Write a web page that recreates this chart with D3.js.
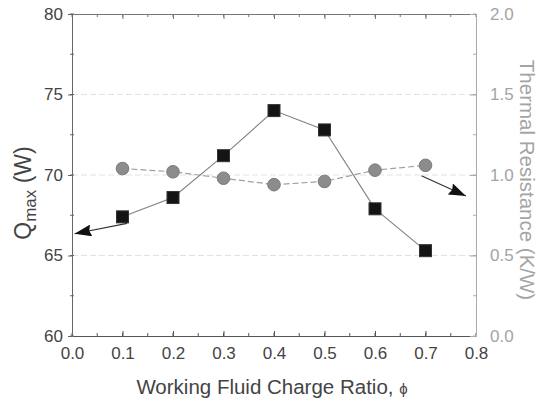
<!DOCTYPE html>
<html>
<head>
<meta charset="utf-8">
<script src="https://cdn.jsdelivr.net/npm/d3@7"></script>
<style>
  html, body { margin: 0; padding: 0; background: #fff; }
  svg { display: block; font-family: "Liberation Sans", Arial, sans-serif; }
</style>
</head>
<body>
<svg id="chart" width="546" height="404"></svg>
<script>
// ---- data ----
const chargeRatio = [0.1, 0.2, 0.3, 0.4, 0.5, 0.6, 0.7];
const qmaxValues = [67.4, 68.6, 71.2, 74.0, 72.8, 67.9, 65.3];
const resistanceValues = [1.04, 1.02, 0.98, 0.94, 0.96, 1.03, 1.06];
const xTicks = [0.0, 0.1, 0.2, 0.3, 0.4, 0.5, 0.6, 0.7, 0.8];
const leftTicks = [60, 65, 70, 75, 80];
const rightTicks = [0.0, 0.5, 1.0, 1.5, 2.0];
const gridValues = [65, 70, 75];
// arrow annotations [x, y] in data units
const leftArrow = { from: [0.109, 67.0], to: [0.005, 66.35] };
const rightArrow = { from: [0.692, 0.995], to: [0.78, 0.87] };

(function () {
const svg = d3.select("#chart");
const m = { left: 72, right: 476, top: 14, bottom: 336 };

const x = d3.scaleLinear().domain([0, 0.8]).range([m.left, m.right]);
const yL = d3.scaleLinear().domain([60, 80]).range([m.bottom, m.top]);
const yR = d3.scaleLinear().domain([0, 2]).range([m.bottom, m.top]);

const dark = "#444";
const gray = "#a4a4a4";

// arrowhead marker
const defs = svg.append("defs");
defs.append("marker")
  .attr("id", "ah").attr("viewBox", "0 0 17 12")
  .attr("refX", 17).attr("refY", 6)
  .attr("markerWidth", 17).attr("markerHeight", 12)
  .attr("markerUnits", "userSpaceOnUse")
  .attr("orient", "auto")
  .append("path").attr("d", "M0,0 L17,6 L0,12 L2,6 Z").attr("fill", "#111");

// gridlines
svg.append("g").selectAll("line").data(gridValues).join("line")
  .attr("x1", m.left).attr("x2", m.right)
  .attr("y1", d => yL(d)).attr("y2", d => yL(d))
  .attr("stroke", "#e2e2e2").attr("stroke-width", 1)
  .attr("stroke-dasharray", "6,3");

// axes
const xMinor = d3.range(0, 0.8001, 0.05);
const gBottom = svg.append("g").attr("transform", `translate(0,${m.bottom})`)
  .call(d3.axisBottom(x).tickValues(xTicks).tickFormat(d3.format(".1f")).tickSizeInner(-5).tickSizeOuter(0).tickPadding(11));
gBottom.select(".domain").attr("stroke", "#555");
gBottom.selectAll(".tick line").attr("stroke", "#555");
gBottom.selectAll("text").attr("fill", dark).attr("font-size", 17);
svg.append("g").selectAll("line").data(xMinor).join("line")
  .attr("x1", d => x(d)).attr("x2", d => x(d))
  .attr("y1", m.bottom).attr("y2", m.bottom - 3).attr("stroke", "#555");

const gTop = svg.append("g").attr("transform", `translate(0,${m.top})`)
  .call(d3.axisTop(x).tickValues(xTicks).tickFormat("").tickSizeInner(-5).tickSizeOuter(0));
gTop.select(".domain").attr("stroke", "#777");
gTop.selectAll(".tick line").attr("stroke", "#777");
svg.append("g").selectAll("line").data(xMinor).join("line")
  .attr("x1", d => x(d)).attr("x2", d => x(d))
  .attr("y1", m.top).attr("y2", m.top + 3).attr("stroke", "#777");

const gLeft = svg.append("g").attr("transform", `translate(${m.left},0)`)
  .call(d3.axisLeft(yL).tickValues(leftTicks).tickSizeInner(4).tickSizeOuter(0).tickPadding(5));
gLeft.select(".domain").attr("stroke", "#666");
gLeft.selectAll(".tick line").attr("stroke", "#666");
gLeft.selectAll("text").attr("fill", dark).attr("font-size", 17);
svg.append("g").selectAll("line").data(d3.range(60, 80.01, 2.5)).join("line")
  .attr("x1", m.left - 2).attr("x2", m.left + 2)
  .attr("y1", d => yL(d)).attr("y2", d => yL(d)).attr("stroke", "#666");

const gRight = svg.append("g").attr("transform", `translate(${m.right},0)`)
  .call(d3.axisRight(yR).tickValues(rightTicks).tickFormat(d3.format(".1f")).tickSizeInner(-6).tickSizeOuter(0).tickPadding(14));
gRight.select(".domain").attr("stroke", "#aaa");
gRight.selectAll(".tick line").attr("stroke", "#aaa");
gRight.selectAll("text").attr("fill", gray).attr("font-size", 17);
svg.append("g").selectAll("line").data(d3.range(0, 2.001, 0.25)).join("line")
  .attr("x1", m.right).attr("x2", m.right - 3)
  .attr("y1", d => yR(d)).attr("y2", d => yR(d)).attr("stroke", "#aaa");

// series lines
const qLine = d3.line().x((d, i) => x(chargeRatio[i])).y(d => yL(d));
const rLine = d3.line().x((d, i) => x(chargeRatio[i])).y(d => yR(d));
svg.append("path").datum(resistanceValues).attr("d", rLine)
  .attr("fill", "none").attr("stroke", "#a0a0a0").attr("stroke-width", 1.2)
  .attr("stroke-dasharray", "6,3");
svg.append("path").datum(qmaxValues).attr("d", qLine)
  .attr("fill", "none").attr("stroke", "#808080").attr("stroke-width", 1.1);

// markers
svg.append("g").selectAll("circle").data(resistanceValues).join("circle")
  .attr("cx", (d, i) => x(chargeRatio[i])).attr("cy", d => yR(d)).attr("r", 6.3)
  .attr("fill", "#8c8c8c").attr("stroke", "#7a7a7a").attr("stroke-width", 1);
const sq = 12;
svg.append("g").selectAll("rect").data(qmaxValues).join("rect")
  .attr("x", (d, i) => x(chargeRatio[i]) - sq / 2).attr("y", d => yL(d) - sq / 2)
  .attr("width", sq).attr("height", sq)
  .attr("fill", "#141414").attr("stroke", "#333").attr("stroke-width", 1);

// arrows
svg.append("line")
  .attr("x1", x(leftArrow.from[0])).attr("y1", yL(leftArrow.from[1]))
  .attr("x2", x(leftArrow.to[0])).attr("y2", yL(leftArrow.to[1]))
  .attr("stroke", "#333").attr("stroke-width", 1.2).attr("marker-end", "url(#ah)");
svg.append("line")
  .attr("x1", x(rightArrow.from[0])).attr("y1", yR(rightArrow.from[1]))
  .attr("x2", x(rightArrow.to[0])).attr("y2", yR(rightArrow.to[1]))
  .attr("stroke", "#333").attr("stroke-width", 1.2).attr("marker-end", "url(#ah)");

// titles
svg.append("text")
  .attr("x", (m.left + m.right) / 2 - 2).attr("y", 394)
  .attr("text-anchor", "middle").attr("font-size", 20.5).attr("fill", dark)
  .text("Working Fluid Charge Ratio, ")
  .append("tspan").attr("font-size", 15).text("ϕ");

const lt = svg.append("text")
  .attr("transform", "translate(31,193) rotate(-90)")
  .attr("text-anchor", "middle").attr("font-size", 23).attr("fill", dark);
lt.append("tspan").text("Q");
lt.append("tspan").attr("font-size", 17).attr("dy", 5).text("max");
lt.append("tspan").attr("dy", -5).text(" (W)");

svg.append("text")
  .attr("transform", "translate(520,180) rotate(90)")
  .attr("text-anchor", "middle").attr("font-size", 20.5).attr("fill", gray)
  .text("Thermal Resistance (K/W)");
})();
</script>
</body>
</html>
